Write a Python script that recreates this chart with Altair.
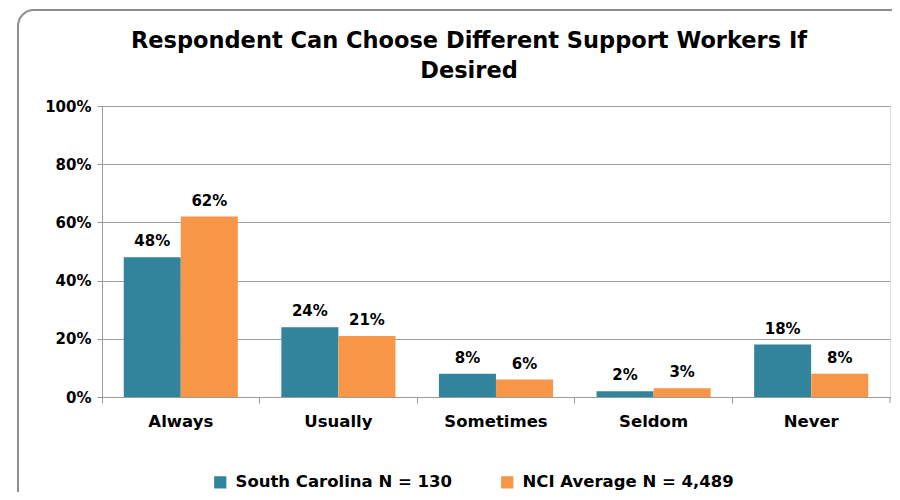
import altair as alt
import pandas as pd

categories = ["Always", "Usually", "Sometimes", "Seldom", "Never"]
south_carolina = [48, 24, 8, 2, 18]
nci_average = [62, 21, 6, 3, 8]
series_names = ["South Carolina N = 130", "NCI Average N = 4,489"]
colors = ["#31849B", "#F79646"]
y_ticks = [0, 20, 40, 60, 80, 100]
title_lines = ["Respondent Can Choose Different Support Workers If", "Desired"]

rows = []
for i, c in enumerate(categories):
    rows.append({"category": c, "series": series_names[0], "value": south_carolina[i]})
    rows.append({"category": c, "series": series_names[1], "value": nci_average[i]})
df = pd.DataFrame(rows)
df["label"] = df["value"].astype(str) + "%"

FONT = "DejaVu Sans"
W, H = 788, 291

x = alt.X(
    "category:N", sort=categories,
    scale=alt.Scale(paddingInner=0, paddingOuter=0),
    axis=alt.Axis(title=None, labelAngle=0, labelFont=FONT, labelFontSize=16.5,
                  labelFontWeight="bold", labelColor="black", labelPadding=10,
                  domainColor="#9A9A9A", tickColor="#9A9A9A", tickSize=6,
                  bandPosition=0, grid=False),
)
xoff = alt.XOffset("series:N", sort=series_names,
                   scale=alt.Scale(paddingOuter=0.38, paddingInner=0))
y = alt.Y(
    "value:Q", scale=alt.Scale(domain=[0, 100]),
    axis=alt.Axis(title=None, values=y_ticks, labelExpr="datum.value + '%'",
                  labelFont=FONT, labelFontSize=15, labelFontWeight="bold",
                  labelColor="black", labelPadding=6, domainColor="#9A9A9A",
                  tickColor="#9A9A9A", tickSize=5, gridColor="#A0A0A0",
                  gridWidth=1),
)
color = alt.Color(
    "series:N", sort=series_names,
    scale=alt.Scale(domain=series_names, range=colors),
    legend=alt.Legend(title=None, orient="none", legendX=110, legendY=368,
                      direction="horizontal", columns=2, columnPadding=46,
                      symbolType="square", symbolSize=150, symbolStrokeWidth=0,
                      labelFont=FONT, labelFontSize=16.5, labelFontWeight="bold",
                      labelColor="black", labelLimit=0, symbolOffset=0,
                      labelOffset=7),
)

one = pd.DataFrame({"a": [0]})
frame = alt.Chart(one).mark_rect(
    fillOpacity=0, fill="white", stroke="#8E8E8E", strokeWidth=2, cornerRadius=16
).encode(x=alt.value(-84), x2=alt.value(830), y=alt.value(-96), y2=alt.value(430))

title = alt.Chart(one).mark_text(
    font=FONT, fontSize=22.5, fontWeight="bold", color="black", align="center",
    baseline="top", lineHeight=30
).encode(x=alt.value(367), y=alt.value(-76), text=alt.value(title_lines))

bars = alt.Chart(df).mark_bar(size=57).encode(x=x, xOffset=xoff, y=y, color=color)

labels = alt.Chart(df).mark_text(
    baseline="bottom", dy=-8, font=FONT, fontSize=15, fontWeight="bold", color="black"
).encode(x=x, xOffset=xoff, y=y, text="label:N")

end_tick = alt.Chart(one).mark_rule(color="#9A9A9A").encode(
    x=alt.value(W), y=alt.value(H), y2=alt.value(H + 6)
)

chart = alt.layer(frame, title, bars, labels, end_tick).properties(
    width=W, height=H,
    autosize=alt.AutoSizeParams(type="none"),
    padding={"left": 94, "top": 98, "right": 2, "bottom": 95},
).configure_view(fill="#EAEAEA", stroke=None).configure(background="white")

chart.save("out.html", embed_options={"renderer": "svg", "actions": False})
